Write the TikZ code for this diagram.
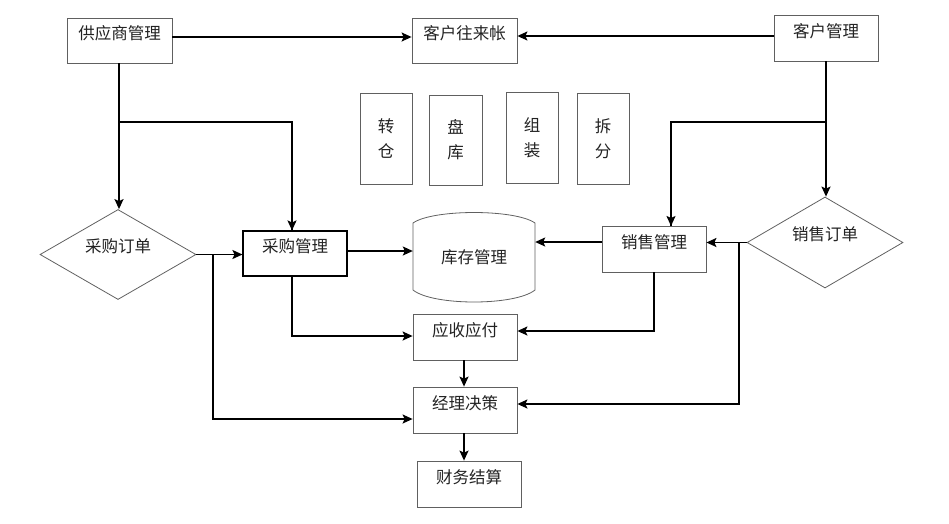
\documentclass[tikz,border=0pt]{standalone}
\usepackage{fontspec}
\newfontfamily\cjk{Noto Sans CJK SC}
\usetikzlibrary{arrows.meta,shapes.geometric}
\definecolor{bd}{HTML}{606060}
\definecolor{tx}{HTML}{222222}
\begin{document}
\begin{tikzpicture}[x=1pt,y=-1pt,
  font=\cjk\fontsize{16.5}{25}\selectfont, text=tx,
  box/.style={draw=bd,line width=0.8pt,minimum width=104pt,minimum height=46pt,inner sep=0pt,text height=12pt,text depth=14pt},
  vbox/.style={draw=bd,line width=0.8pt,minimum width=52pt,minimum height=91pt,inner sep=0pt,align=center},
  dia/.style={draw=bd,line width=0.8pt,diamond,aspect=1.75,inner sep=0pt,minimum width=156pt,minimum height=90pt,text height=12pt,text depth=16pt},
  arr/.style={line width=1.5pt,-{Stealth[length=10pt,width=9pt,inset=2pt]}},
  ln/.style={line width=1.5pt}]
\useasboundingbox (0,0) rectangle (949,523);
% boxes
\node[box,minimum width=105pt,minimum height=45pt] (sup) at (119.5,40.5) {供应商管理};
\node[box,minimum width=105pt,minimum height=45pt] (kwl) at (464.5,40.5) {客户往来帐};
\node[box] (khgl) at (826,38) {客户管理};
\node[vbox] (zc) at (386,138.5) {转\\仓};
\node[vbox,minimum width=53pt,minimum height=90pt] (pk) at (455.5,140) {盘\\库};
\node[vbox] (zz) at (532,137.5) {组\\装};
\node[vbox] (cf) at (603,138.5) {拆\\分};
\node[dia] (cgdd) at (118,254.5) {采购订单};
\node[box,draw=black,line width=1.1pt,minimum height=45pt] (cggl) at (295,253.5) {采购管理};
\draw[bd,line width=0.8pt] (413,223) .. controls (433,209) and (515,209) .. (535,223)
  -- (535,290) .. controls (515,306) and (433,306) .. (413,290) -- cycle;
\node[minimum width=122pt,minimum height=91pt,inner sep=0pt] (kc) at (474,257.5) {库存管理};
\node[box] (xsgl) at (654,249) {销售管理};
\node[dia,minimum height=91pt] (xsdd) at (825,242.5) {销售订单};
\node[box] (ysyf) at (465,337) {应收应付};
\node[box] (jlcc) at (465,410) {经理决策};
\node[box] (cwjs) at (469,484) {财务结算};
% junctions
\coordinate (j1) at (119,122);
\coordinate (j2) at (213,255);
\coordinate (j3) at (826,122);
\coordinate (j4) at (739,242);
% connectors
\draw[arr] ([yshift=3.5pt]sup.east) -- ([yshift=3.5pt]kwl.west);
\draw[arr] ([yshift=2pt]khgl.west) -- ([yshift=4.5pt]kwl.east);
\draw[arr] (sup.south -| j1) -- (cgdd.north -| j1);
\draw[ln] (j1) -| ([xshift=-3pt,yshift=-1pt]cggl.north);
\draw[arr] ([xshift=-3pt]j1 -| cggl.north) -- ([xshift=-3pt]cggl.north);
\draw[arr] (cgdd.east) -- (cgdd.east -| cggl.west);
\draw[arr] (j2) |- ([yshift=-9pt]jlcc.west);
\draw[arr] ([yshift=2.5pt]cggl.east) -- ([yshift=2.5pt]cggl.east -| kc.west);
\draw[arr] ([xshift=-3pt]cggl.south) |- ([yshift=1pt]ysyf.west);
\draw[arr] ([yshift=7pt]xsgl.west) -- ([yshift=7pt]xsgl.west -| kc.east);
\draw[arr] (khgl.south) -- (khgl.south |- xsdd.north);
\draw[ln] (j3) -| (671,226);
\draw[arr] (j3 -| 671,0) -- (671,226);
\draw[arr] (xsdd.west) -- (xsdd.west -| xsgl.east);
\draw[arr] (j4) |- ([yshift=6pt]jlcc.east);
\draw[arr] (xsgl.south) |- ([yshift=6pt]ysyf.east);
\draw[arr] ([xshift=-1pt]ysyf.south) -- ([xshift=-1pt]jlcc.north);
\draw[arr] ([xshift=-1pt]jlcc.south) -- ([xshift=-1pt]jlcc.south |- cwjs.north);
\end{tikzpicture}
\end{document}
